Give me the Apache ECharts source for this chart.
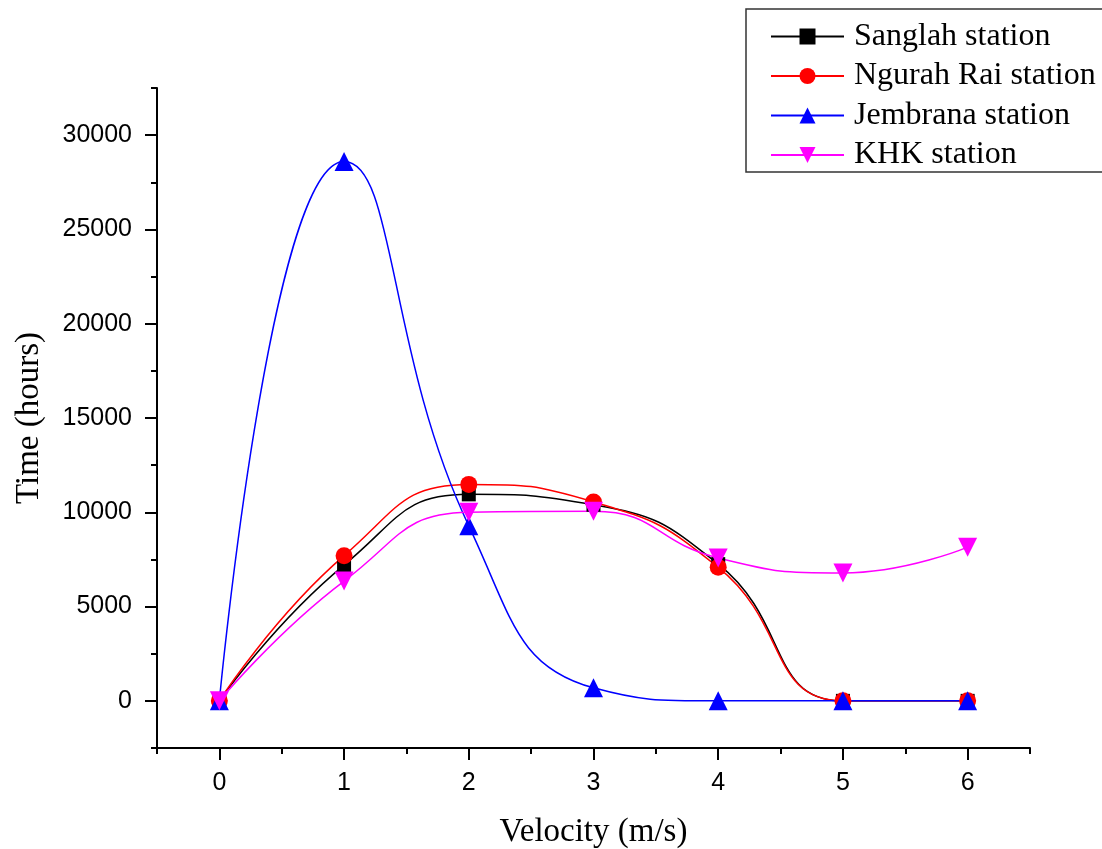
<!DOCTYPE html>
<html>
<head>
<meta charset="utf-8">
<script src="https://cdn.jsdelivr.net/npm/echarts@6/dist/echarts.min.js"></script>
<style>html,body{margin:0;padding:0;background:#fff}#c{width:1102px;height:849px}</style>
</head>
<body>
<div id="c"></div>
<script>
var velocity = [0, 1, 2, 3, 4, 5, 6];
var sanglah = [0, 7200, 10950, 10400, 7250, 0, 0];
var ngurahRai = [0, 7700, 11480, 10550, 7080, 0, 0];
var jembrana = [0, 28600, 9280, 690, 0, 0, 0];
var khk = [0, 6350, 10000, 10050, 7580, 6780, 8150];
var xTicks = [0, 1, 2, 3, 4, 5, 6];
var yTicks = [0, 5000, 10000, 15000, 20000, 25000, 30000];
var seriesNames = ['Sanglah station', 'Ngurah Rai station', 'Jembrana station', 'KHK station'];
var colors = ['#000000', '#FF0000', '#0000FF', '#FF00FF'];
var symbols = ['rect', 'circle', 'triangle', 'path://M0,0 L10,0 L5,10 Z'];
var symbolSizes = [14, 17, 19, 19];

function pairs(arr) { return velocity.map(function (v, i) { return [v, arr[i]]; }); }
var allData = [sanglah, ngurahRai, jembrana, khk];

var chart = echarts.init(document.getElementById('c'));
var serif = '"Liberation Serif", "Times New Roman", serif';
var sans = '"Liberation Sans", Arial, sans-serif';
var blackLine = { color: '#000', width: 2 };
chart.setOption({
  animation: false,
  backgroundColor: '#fff',
  grid: { left: 157, right: 72, top: 88, bottom: 101, containLabel: false, outerBoundsMode: 'none' },
  legend: {
    data: seriesNames,
    orient: 'vertical',
    left: 746, top: 9,
    padding: [11.5, 70, 1, 24],
    itemWidth: 73, itemHeight: 20, itemGap: 7.5,
    borderColor: '#333', borderWidth: 1.5,
    textStyle: { fontFamily: serif, fontSize: 32, color: '#000', lineHeight: 32, padding: [0, 0, 0, 5] },
    backgroundColor: '#fff'
  },
  xAxis: [{
    type: 'value', min: -0.5, max: 6.5,
    name: 'Velocity (m/s)', nameLocation: 'middle', nameGap: 68,
    nameTextStyle: { fontFamily: serif, fontSize: 33, color: '#000' },
    axisLine: { show: true, onZero: false, lineStyle: blackLine },
    axisTick: { show: true, length: 12, customValues: xTicks, lineStyle: blackLine },
    splitLine: { show: false },
    axisLabel: { customValues: xTicks, fontFamily: sans, fontSize: 25, color: '#000', margin: 23,
      formatter: function (v) { return String(v); } }
  }, {
    type: 'value', min: -0.5, max: 6.5, interval: 0.5, position: 'bottom',
    axisLine: { show: false, onZero: false },
    axisTick: { show: true, length: 6, lineStyle: blackLine },
    axisLabel: { show: false }, splitLine: { show: false }
  }],
  yAxis: [{
    type: 'value', min: -2500, max: 32500,
    name: 'Time (hours)', nameLocation: 'middle', nameGap: 111, nameRotate: 90,
    nameTextStyle: { fontFamily: serif, fontSize: 33, color: '#000' },
    axisLine: { show: true, onZero: false, lineStyle: blackLine },
    axisTick: { show: true, length: 12, customValues: yTicks, lineStyle: blackLine },
    splitLine: { show: false },
    axisLabel: { customValues: yTicks, fontFamily: sans, fontSize: 25, color: '#000', margin: 25,
      formatter: function (v) { return String(v); } }
  }, {
    type: 'value', min: -2500, max: 32500, interval: 2500, position: 'left',
    axisLine: { show: false, onZero: false },
    axisTick: { show: true, length: 6, lineStyle: blackLine },
    axisLabel: { show: false }, splitLine: { show: false }
  }],
  series: allData.map(function (d, i) {
    return {
      name: seriesNames[i], type: 'line', data: pairs(d), smooth: 0.5,
      xAxisIndex: 0, yAxisIndex: 0,
      symbol: symbols[i], symbolSize: symbolSizes[i], showAllSymbol: true,
      lineStyle: { color: colors[i], width: 1.5 },
      itemStyle: { color: colors[i], borderWidth: 0 }
    };
  })
});
</script>
</body>
</html>
